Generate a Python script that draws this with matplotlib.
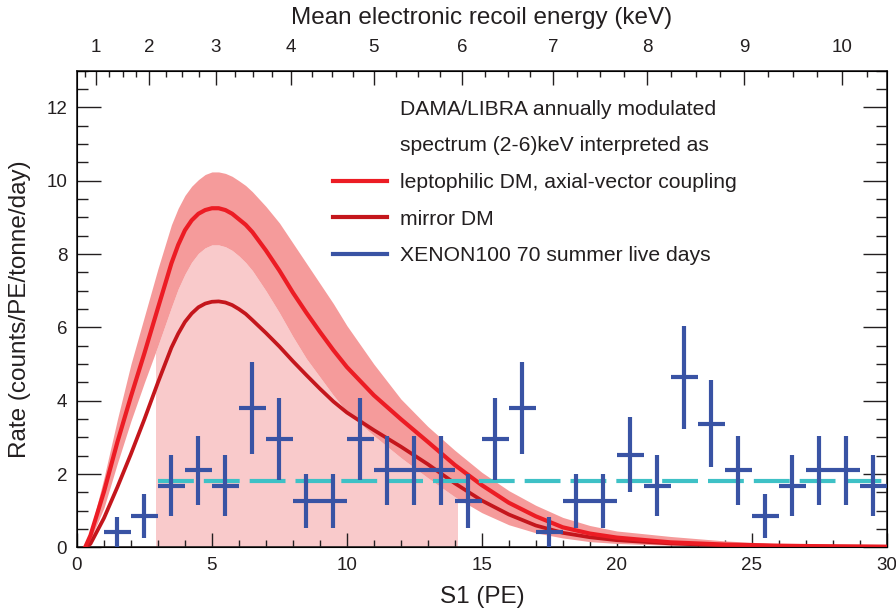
import numpy as np
import matplotlib
matplotlib.use("Agg")
import matplotlib.pyplot as plt
from matplotlib.lines import Line2D
from matplotlib.patches import Rectangle
from matplotlib.ticker import MultipleLocator, FixedLocator

s1_grid = [0.3, 0.5, 1.0, 1.5, 2.0, 2.5, 3.0, 3.5, 3.75, 4.0, 4.25, 4.5, 4.75,
           5.0, 5.25, 5.5, 5.75, 6.0, 6.25, 6.5, 7.0, 7.5, 8.0, 8.5, 9.0, 9.5,
           10, 11, 12, 13, 14, 15, 16, 17, 18, 19, 20, 22, 24, 26, 28, 30]

# leptophilic DM, axial-vector coupling (central curve + band)
lepto = [0.0, 0.33, 1.52, 2.88, 4.12, 5.3, 6.53, 7.75, 8.25, 8.65, 8.92, 9.1, 9.2,
         9.25, 9.25, 9.2, 9.1, 8.95, 8.8, 8.6, 8.1, 7.55, 6.95, 6.4, 5.88, 5.38,
         4.92, 4.15, 3.5, 2.88, 2.25, 1.7, 1.22, 0.85, 0.55, 0.38, 0.27, 0.14,
         0.08, 0.05, 0.03, 0.02]
band_upper = [0.0, 0.45, 1.9, 3.5, 5.0, 6.3, 7.6, 8.8, 9.25, 9.6, 9.85, 10.03,
              10.17, 10.24, 10.24, 10.2, 10.12, 10.0, 9.87, 9.7, 9.3, 8.85, 8.3,
              7.75, 7.2, 6.65, 6.05, 5.0, 4.05, 3.3, 2.65, 2.05, 1.55, 1.15, 0.82,
              0.6, 0.45, 0.3, 0.18, 0.1, 0.06, 0.04]
band_lower = [0.0, 0.22, 1.08, 2.3, 3.45, 4.5, 5.5, 6.55, 7.05, 7.45, 7.78, 8.02,
              8.17, 8.25, 8.25, 8.2, 8.1, 7.95, 7.77, 7.55, 7.0, 6.4, 5.75, 5.15,
              4.65, 4.15, 3.7, 3.05, 2.45, 1.9, 1.38, 0.95, 0.62, 0.4, 0.26, 0.16,
              0.11, 0.06, 0.03, 0.02, 0.01, 0.0]

# mirror DM
mirror = [0.0, 0.1, 0.8, 1.65, 2.55, 3.5, 4.5, 5.45, 5.83, 6.15, 6.38, 6.55, 6.65,
          6.7, 6.71, 6.68, 6.61, 6.5, 6.37, 6.2, 5.85, 5.48, 5.08, 4.7, 4.33, 3.98,
          3.68, 3.2, 2.75, 2.27, 1.75, 1.28, 0.9, 0.6, 0.4, 0.28, 0.2, 0.11, 0.06,
          0.04, 0.03, 0.02]

# DAMA 2-6 keV window in S1
dama_lo, dama_hi = 2.94, 14.07

# XENON100 70 summer live days
xen_s1 = [1.5, 2.5, 3.5, 4.5, 5.5, 6.5, 7.5, 8.5, 9.5, 10.5, 11.5, 12.5, 13.5, 14.5,
          15.5, 16.5, 17.5, 18.5, 19.5, 20.5, 21.5, 22.5, 23.5, 24.5, 25.5, 26.5,
          27.5, 28.5, 29.5]
xen_rate = [0.42, 0.85, 1.69, 2.11, 1.69, 3.80, 2.96, 1.27, 1.27, 2.96, 2.11, 2.11,
            2.11, 1.27, 2.96, 3.80, 0.42, 1.27, 1.27, 2.53, 1.69, 4.64, 3.38, 2.11,
            0.85, 1.69, 2.11, 2.11, 1.69]
xen_err = [0.42, 0.60, 0.84, 0.94, 0.84, 1.26, 1.11, 0.73, 0.73, 1.11, 0.94, 0.94,
           0.94, 0.73, 1.11, 1.26, 0.42, 0.73, 0.73, 1.03, 0.84, 1.40, 1.19, 0.94,
           0.60, 0.84, 0.94, 0.94, 0.84]
bin_half_width = 0.5

# flat background level
bkg_s1 = [3.0, 30.0]
bkg_level = 1.81

# top axis: keV -> S1 position
kev_map = [0.75, 1, 2, 3, 4, 5, 6, 7, 8, 9, 10, 10.25]
s1_map = [0.30, 0.70, 2.68, 5.14, 7.93, 10.99, 14.26, 17.65, 21.13, 24.71, 28.33, 29.26]
kev_labels = ["1", "2", "3", "4", "5", "6", "7", "8", "9", "10"]

c_lepto = "#ec1c24"
c_mirror = "#c4161c"
c_band = "#f59b9b"
c_pink = "#f9cacb"
c_blue = "#3953a4"
c_cyan = "#3ec1c6"
c_text = "#231f20"

plt.rcParams['font.family'] = ['Liberation Sans', 'DejaVu Sans']

fig = plt.figure(figsize=(8.96, 6.09), dpi=100)
ax = fig.add_axes([0.0859, 0.1010, 0.9037, 0.7829])

pink = ax.fill_between(s1_grid, 0, band_lower, color=c_pink, lw=0, zorder=1)
pink.set_clip_path(Rectangle((dama_lo, 0), dama_hi - dama_lo, 13, transform=ax.transData))
ax.fill_between(s1_grid, band_lower, band_upper, color=c_band, lw=0, zorder=2)
ax.plot(s1_grid, mirror, color=c_mirror, lw=2.7, zorder=3, solid_joinstyle='round')
ax.plot(s1_grid, lepto, color=c_lepto, lw=3, zorder=4, solid_joinstyle='round')

ax.plot(bkg_s1, [bkg_level, bkg_level], color=c_cyan, lw=3, ls=(0, (8.6, 2.4)), zorder=5)
ax.errorbar(xen_s1, xen_rate, xerr=bin_half_width, yerr=xen_err, fmt='none',
            ecolor=c_blue, elinewidth=3, capsize=0, zorder=6)

ax.set_xlim(0, 30)
ax.set_ylim(0, 13)
ax.xaxis.set_major_locator(MultipleLocator(5))
ax.xaxis.set_minor_locator(MultipleLocator(1))
ax.yaxis.set_major_locator(FixedLocator([0, 2, 4, 6, 8, 10, 12]))
ax.yaxis.set_minor_locator(MultipleLocator(0.5))
ax.tick_params(which='both', direction='in', top=False, right=True,
               colors=c_text, labelsize=13.5, width=1.0)
ax.tick_params(axis='x', which='major', length=10, pad=7)
ax.tick_params(axis='x', which='minor', length=5)
ax.tick_params(axis='y', which='major', length=17, pad=7)
ax.tick_params(axis='y', which='minor', length=8)
for sp in ax.spines.values():
    sp.set_linewidth(1.2)
    sp.set_color(c_text)

ax.set_xlabel('S1 (PE)', fontsize=17.5, color=c_text, labelpad=8.5)
ax.set_ylabel('Rate (counts/PE/tonne/day)', fontsize=17.5, color=c_text, labelpad=11)

# top axis in mean electronic recoil energy
ax2 = ax.twiny()
ax2.set_xlim(ax.get_xlim())
ax2.set_xticks(s1_map[1:-1])
ax2.set_xticklabels(kev_labels)
kev_minor = np.arange(0.75, 10.3, 0.25)
ax2.xaxis.set_minor_locator(FixedLocator(np.interp(kev_minor, kev_map, s1_map)))
ax2.tick_params(which='both', direction='in', colors=c_text, labelsize=13.5, width=1.0)
ax2.tick_params(which='major', length=10, pad=10.5)
ax2.tick_params(which='minor', length=4.4)
ax2.set_xlabel('Mean electronic recoil energy (keV)', fontsize=17.5, color=c_text, labelpad=11)

handles = [Line2D([], [], color='none'), Line2D([], [], color='none'),
           Line2D([], [], color=c_lepto, lw=3), Line2D([], [], color=c_mirror, lw=3),
           Line2D([], [], color=c_blue, lw=3)]
labels = ['DAMA/LIBRA annually modulated', 'spectrum (2-6)keV interpreted as',
          'leptophilic DM, axial-vector coupling', 'mirror DM',
          'XENON100 70 summer live days']
leg = ax.legend(handles, labels, loc='upper left', bbox_to_anchor=(0.316, 0.9395),
                frameon=False, fontsize=15.2, handlelength=2.55, handletextpad=0.62,
                labelspacing=0.84, borderpad=0, borderaxespad=0)
for t in leg.get_texts():
    t.set_color(c_text)

fig.savefig('out.png', dpi=100)
